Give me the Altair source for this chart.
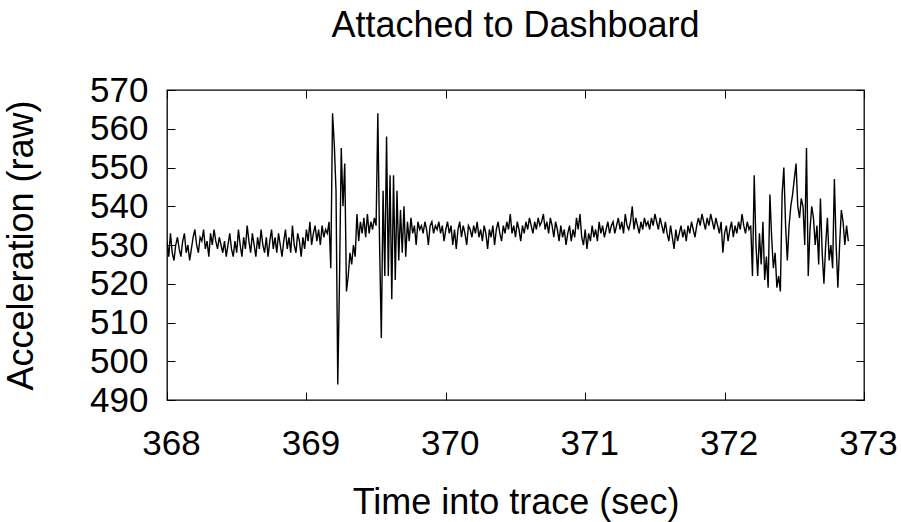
import altair as alt
import pandas as pd

# ---- data (raw accelerometer samples) ----
t_start = 368.0
sample_dt = 0.0125

quiet_start = [
    531, 527, 533, 528, 526, 530, 532, 529, 527, 531,
    533, 528, 530, 526, 529, 532, 534, 530, 528, 532,
    531, 534, 529, 531, 527, 533, 530, 534, 531, 529,
    532, 530, 528, 531, 527, 530, 533, 529, 527, 531,
    528, 534, 530, 527, 532, 529, 535, 531, 528, 533,
    530, 527, 532, 529, 534, 530, 528, 532, 527, 531,
    534, 529, 532, 528, 533, 530, 527, 531, 534, 529,
    532, 528, 535, 530, 528, 533, 531, 527, 532, 529,
    534, 531, 536, 530, 533, 535, 531, 534, 530, 535,
    532, 534,
]
burst_one = [
    533, 536, 524, 564, 556, 544, 494, 521, 555, 540,
    551, 518, 522, 528, 525, 530, 527, 538, 531, 536,
    533, 537, 532, 538, 533, 536, 534, 537,
]
burst_two = [
    535, 564, 530, 506, 544, 522, 558, 522, 548, 516,
    548, 521, 544, 526, 539, 528,
]
quiet_middle = [
    540, 527, 536, 531, 537, 533, 535, 530, 536, 534,
    535, 533, 536, 534, 530, 535, 536, 533, 535, 534,
    536, 533, 535, 531, 534, 536, 533, 535, 530, 534,
    529, 534, 536, 532, 535, 533, 530, 535, 534, 532,
    535, 533, 536, 532, 534, 531, 535, 533, 529, 534,
    532, 535, 530, 534, 536, 533, 531, 535, 533, 536,
    534, 538, 533, 535, 532, 536, 534, 531, 535, 533,
    536, 534, 537, 535, 533, 536, 534, 537, 535, 536,
    538, 534, 536, 533, 537, 535, 532, 536, 534, 531,
    535, 532, 534, 530, 533, 535, 531, 534, 532, 537,
    534, 538, 532, 530, 534, 529, 533, 531, 535, 532,
    534, 531, 536, 533, 535, 532, 534, 536, 533, 535,
    536, 533, 535, 537, 534, 536, 533, 538, 535, 534,
    536, 540, 534, 537, 535, 533, 536, 534, 537, 535,
    536, 534, 537, 535, 538, 536, 534, 537, 535, 533,
    536, 533, 531, 535, 532, 529, 534, 531, 533, 535,
    532, 534, 531, 535, 533, 536, 534, 532, 535, 537,
    535, 538, 536, 534, 537, 535, 538, 536, 534, 537,
    535, 533, 536, 528, 533, 535, 531, 534, 536, 532,
    535, 533, 536, 534, 538, 535, 533, 536, 534, 535,
]
burst_end = [
    522, 548, 530, 522, 533, 525, 536, 521, 527, 519,
    543, 532, 524, 528, 519, 522, 518, 543, 550, 535,
    526, 535, 540, 543, 547, 551, 540, 537, 542, 540,
    530, 555, 522, 534, 540, 537, 530, 535, 525, 542,
    528, 520, 530, 537, 526, 530, 524, 547, 530, 519,
    530, 539, 536, 530, 535, 531,
]

accel = quiet_start + burst_one + burst_two + quiet_middle + burst_end
times = [round(t_start + i * sample_dt, 4) for i in range(len(accel))]

x_ticks = [368, 369, 370, 371, 372, 373]
y_ticks = [490, 500, 510, 520, 530, 540, 550, 560, 570]

df = pd.DataFrame({"t": times, "a": accel})

W, H = 697, 310
FONT = "Liberation Sans"
TICK = 8
xscale = alt.Scale(domain=[368, 373], nice=False, zero=False)
yscale = alt.Scale(domain=[490, 570], nice=False, zero=False)


def tick_axis(orient):
    # inward gnuplot-style ticks: axis moved inside the frame, ticks point back out
    return alt.Axis(values=x_ticks if orient in ("top", "bottom") else y_ticks,
                    orient=orient, offset=-TICK, tickSize=TICK, ticks=True,
                    tickColor="black", tickWidth=1, labels=False, domain=False,
                    grid=False, title=None)


base = alt.Chart(df)

line = base.mark_line(color="black", strokeWidth=1.4, clip=True).encode(
    x=alt.X("t:Q", scale=xscale,
            axis=alt.Axis(values=x_ticks, format="d", title="Time into trace (sec)",
                          orient="bottom", ticks=False, domain=False, grid=False,
                          labelFlush=False, labelPadding=26, labelOffset=4,
                          titlePadding=24)),
    y=alt.Y("a:Q", scale=yscale,
            axis=alt.Axis(values=y_ticks, format="d", title="Acceleration (raw)",
                          orient="left", ticks=False, domain=False, grid=False,
                          labelPadding=19, titlePadding=49)),
)

ticks_a = base.mark_line(strokeOpacity=0).encode(
    x=alt.X("t:Q", scale=xscale, axis=tick_axis("bottom")),
    y=alt.Y("a:Q", scale=yscale, axis=tick_axis("left")),
)
ticks_b = base.mark_line(strokeOpacity=0).encode(
    x=alt.X("t:Q", scale=xscale, axis=tick_axis("top")),
    y=alt.Y("a:Q", scale=yscale, axis=tick_axis("right")),
)

chart = alt.layer(line, ticks_a, ticks_b).resolve_axis(
    x="independent", y="independent"
).properties(
    width=W, height=H,
    title=alt.TitleParams("Attached to Dashboard", fontSize=36, font=FONT,
                          fontWeight="normal", anchor="middle", color="black",
                          offset=0, baseline="alphabetic"),
    autosize=alt.AutoSizeParams(type="none"),
    padding={"left": 167, "top": 90, "right": 37, "bottom": 122},
).configure_view(
    stroke="black", strokeWidth=1.3
).configure_axis(
    labelFont=FONT, labelFontSize=35, labelColor="black",
    titleFont=FONT, titleFontSize=36, titleColor="black", titleFontWeight="normal",
)

chart.save("out.html", embed_options={"renderer": "svg", "actions": False})
